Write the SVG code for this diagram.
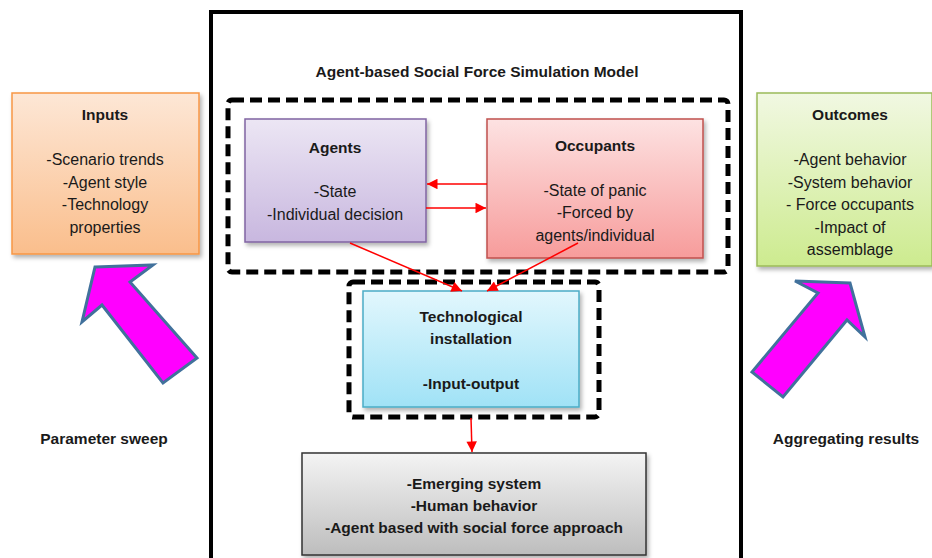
<svg xmlns="http://www.w3.org/2000/svg" width="932" height="558" viewBox="0 0 932 558">
<defs>
<linearGradient id="gOr" x1="0" y1="0" x2="0" y2="1"><stop offset="0" stop-color="#fde7d6"/><stop offset="1" stop-color="#fabe8c"/></linearGradient>
<linearGradient id="gGr" x1="0" y1="0" x2="0" y2="1"><stop offset="0" stop-color="#f1f8e2"/><stop offset="1" stop-color="#cdeb8f"/></linearGradient>
<linearGradient id="gPu" x1="0" y1="0" x2="0" y2="1"><stop offset="0" stop-color="#ece6f4"/><stop offset="1" stop-color="#c8b7df"/></linearGradient>
<linearGradient id="gPk" x1="0" y1="0" x2="0" y2="1"><stop offset="0" stop-color="#fde2e2"/><stop offset="1" stop-color="#f79c9b"/></linearGradient>
<linearGradient id="gBl" x1="0" y1="0" x2="0" y2="1"><stop offset="0" stop-color="#e2f7fd"/><stop offset="1" stop-color="#a0e2f6"/></linearGradient>
<linearGradient id="gGy" x1="0" y1="0" x2="0" y2="1"><stop offset="0" stop-color="#f4f4f4"/><stop offset="1" stop-color="#bdbdbd"/></linearGradient>
<filter id="sh" x="-10%" y="-10%" width="125%" height="125%"><feDropShadow dx="2" dy="3" stdDeviation="2" flood-color="#000" flood-opacity="0.3"/></filter>
<marker id="ahb" viewBox="0 0 10 10" refX="10" refY="5" markerWidth="8" markerHeight="7" orient="auto" markerUnits="strokeWidth"><path d="M0,0 L10,5 L0,10 z" fill="#ff0000"/></marker>
</defs>
<style>
text{font-family:"Liberation Sans",Arial,sans-serif;font-size:16px;fill:#1a1a1a;text-anchor:middle}
.b{font-weight:bold;font-size:15.5px}
.dash{fill:none;stroke:#000;stroke-width:5;stroke-dasharray:12 6}
.con{stroke:#ff0000;stroke-width:1.5;fill:none}
.big{fill:#ff00ff;stroke:#41719c;stroke-width:3;stroke-linejoin:miter}
</style>
<rect width="932" height="558" fill="#fff"/>
<rect x="211" y="12" width="530" height="560" fill="none" stroke="#000" stroke-width="4"/>
<text class="b" x="477" y="77">Agent-based Social Force Simulation Model</text>
<rect class="dash" x="228" y="100" width="500" height="172" rx="4"/>
<rect class="dash" x="349" y="282" width="250" height="135" rx="4"/>
<g id="inputs">
<rect x="12" y="93" width="187" height="161" fill="url(#gOr)" stroke="#f79646" stroke-width="1.5" filter="url(#sh)"/>
<text class="b" x="105" y="120">Inputs</text>
<text x="105" y="165">-Scenario trends</text>
<text x="105" y="188">-Agent style</text>
<text x="105" y="210">-Technology</text>
<text x="105" y="233">properties</text>
</g>
<g id="outcomes">
<rect x="757" y="93" width="175" height="173" fill="url(#gGr)" stroke="#9bbb59" stroke-width="1.5" filter="url(#sh)"/>
<text class="b" x="850" y="120">Outcomes</text>
<text x="850" y="165">-Agent behavior</text>
<text x="850" y="188">-System behavior</text>
<text x="850" y="210">- Force occupants</text>
<text x="850" y="233">-Impact of</text>
<text x="850" y="255">assemblage</text>
</g>
<g id="agents">
<rect x="245" y="119" width="181" height="123" fill="url(#gPu)" stroke="#8064a2" stroke-width="1.5" filter="url(#sh)"/>
<text class="b" x="335" y="153">Agents</text>
<text x="335" y="197">-State</text>
<text x="335" y="220">-Individual decision</text>
</g>
<g id="occupants">
<rect x="487" y="119" width="216" height="139" fill="url(#gPk)" stroke="#c0504d" stroke-width="1.5" filter="url(#sh)"/>
<text class="b" x="595" y="151">Occupants</text>
<text x="595" y="196">-State of panic</text>
<text x="595" y="218">-Forced by</text>
<text x="595" y="241">agents/individual</text>
</g>
<g id="tech">
<rect x="363" y="291" width="216" height="116" fill="url(#gBl)" stroke="#4bacc6" stroke-width="1.5" filter="url(#sh)"/>
<text class="b" x="471" y="322">Technological</text>
<text class="b" x="471" y="344">installation</text>
<text class="b" x="471" y="389">-Input-output</text>
</g>
<g id="result">
<rect x="302" y="453" width="344" height="102" fill="url(#gGy)" stroke="#333" stroke-width="1.5" filter="url(#sh)"/>
<text class="b" x="474" y="489">-Emerging system</text>
<text class="b" x="474" y="511">-Human behavior</text>
<text class="b" x="474" y="533">-Agent based with social force approach</text>
</g>
<g id="sweep">
<polygon class="big" points="95,267 153,265 130,282 197,358 163,383 102,305 82,322"/>
<text class="b" x="104" y="444">Parameter sweep</text>
</g>
<g id="aggregate">
<polygon class="big" points="850,283 795,281 818,293 752,372 783,397 847,320 865,337"/>
<text class="b" x="846" y="444">Aggregating results</text>
</g>
<g id="connectors">
<line class="con" x1="487" y1="184" x2="427" y2="184" marker-end="url(#ahb)"/>
<line class="con" x1="426" y1="208" x2="486" y2="208" marker-end="url(#ahb)"/>
<line class="con" x1="350" y1="243" x2="462" y2="291" marker-end="url(#ahb)"/>
<line class="con" x1="578" y1="243" x2="487" y2="291" marker-end="url(#ahb)"/>
<line class="con" x1="471" y1="418" x2="472" y2="452" marker-end="url(#ahb)"/>
</g>
</svg>
